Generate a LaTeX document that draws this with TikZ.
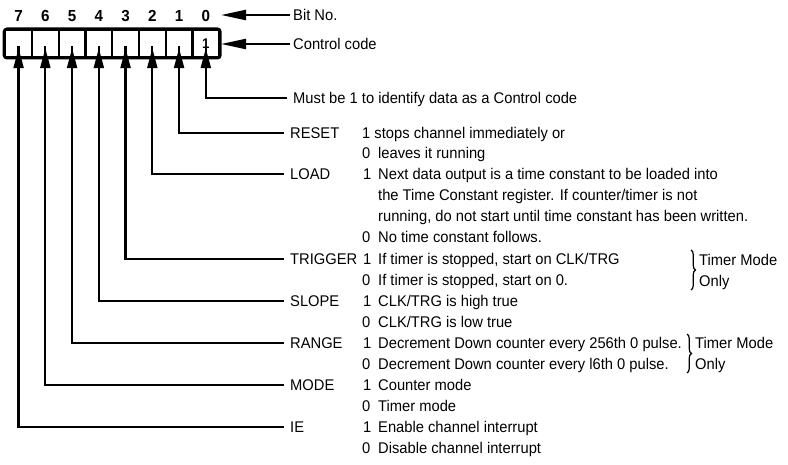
\documentclass[tikz,border=0pt]{standalone}
\usepackage{fontspec}
\setmainfont[FakeStretch=0.95]{Liberation Sans}
\usetikzlibrary{arrows.meta,decorations.pathreplacing,calc}
\begin{document}
\begin{tikzpicture}[x=1pt,y=-1pt,
  txt/.style={anchor=west,inner sep=0pt,text height=11pt,text depth=0pt,font=\fontsize{15.5}{17}\selectfont},
  bitnum/.style={inner sep=0pt,text height=11pt,text depth=0pt,font=\fontsize{16}{18}\selectfont\bfseries},
  cell/.style={draw,line width=2.4pt,minimum width=26.75pt,minimum height=27pt,inner sep=0pt,anchor=west},
  conn/.style={line width=2.3pt,line join=miter},
  harr/.style={line width=2.3pt,-{Triangle[length=25pt,width=10pt]}},
  varr/.style={line width=2.3pt,-{Triangle[length=20pt,width=10pt]}},
  tbrace/.style={decorate,decoration={brace,amplitude=4.5pt},line width=1.2pt}]
\useasboundingbox (0,0) rectangle (788,465);
% register cells (bit 7 at left)
\foreach \i [evaluate=\i as \xx using {4+26.75*(7-\i)}] in {7,6,5,4,3,2,1,0}{
  \node[cell] (b\i) at (\xx,43.5) {};
  \node[bitnum] (n\i) at ($(b\i.center)+(0,-27.5)$) {\i};
}
\draw[line width=2.6pt,rounded corners=3pt] (b7.north west) rectangle (b0.south east);
\node[bitnum,font=\fontsize{14}{16}\selectfont\bfseries] (one) at (b0.center) {1};
% bit no / control code
\node[txt] (bitno) at (293,15) {Bit No.};
\node[txt] (cc) at (293,44) {Control code};
\draw[harr] ([xshift=-3pt]bitno.west) -- (221,15);
\draw[harr] ([xshift=-3pt]cc.west) -- (221,44);
% labels
\node[txt] (must) at (293,98) {Must be 1 to identify data as a Control code};
\node[txt] (reset) at (290,133) {RESET};
\node[txt] (load) at (290,174) {LOAD};
\node[txt] (trig) at (290,259) {TRIGGER};
\node[txt] (slope) at (290,301) {SLOPE};
\node[txt] (range) at (290,343) {RANGE};
\node[txt] (mode) at (290,385) {MODE};
\node[txt] (ie) at (290,427) {IE};
% connectors
\foreach \b/\l in {0/must,1/reset,2/load,3/trig,4/slope,5/range,6/mode,7/ie}{
  \coordinate (c\b) at (b\b.center |- \l.west);
  \draw[conn] ([xshift=-6pt]\l.west) -- (c\b) -- ([yshift=12pt]b\b.south);
  \draw[varr] (c\b) -- ([yshift=10pt]b\b.south);
}
% descriptions
\node[txt] (d1a) at (362,133) {1 stops channel immediately or};
\node[txt] at (362,153) {0};
\node[txt] (d1b) at (378,153) {leaves it running};
\node[txt] at (363,174) {1};
\node[txt] at (378,174) {Next data output is a time constant to be loaded into};
\node[txt] at (378,195) {the Time Constant register. If counter/timer is not};
\node[txt] at (378,216) {running, do not start until time constant has been written.};
\node[txt] at (362,237) {0};
\node[txt] at (378,237) {No time constant follows.};
\node[txt] at (363,259) {1};
\node[txt] at (378,259) {If timer is stopped, start on CLK/TRG};
\node[txt] at (362,280) {0};
\node[txt] at (378,280) {If timer is stopped, start on 0.};
\node[txt] at (363,301) {1};
\node[txt] at (378,301) {CLK/TRG is high true};
\node[txt] at (362,322) {0};
\node[txt] at (378,322) {CLK/TRG is low true};
\node[txt] at (363,343) {1};
\node[txt] (dec1) at (378,343) {Decrement Down counter every 256th 0 pulse.};
\node[txt] at (362,364) {0};
\node[txt] at (378,364) {Decrement Down counter every l6th 0 pulse.};
\node[txt] at (363,385) {1};
\node[txt] at (378,385) {Counter mode};
\node[txt] at (362,406) {0};
\node[txt] at (378,406) {Timer mode};
\node[txt] at (363,427) {1};
\node[txt] at (378,427) {Enable channel interrupt};
\node[txt] at (362,448) {0};
\node[txt] at (378,448) {Disable channel interrupt};
% braces
\node[txt] (tm1) at (699,260) {Timer Mode};
\node[txt] (on1) at (699,281) {Only};
\draw[tbrace] (691,250) -- (691,290);
\node[txt] (tm2) at (695,343) {Timer Mode};
\node[txt] (on2) at (695,364) {Only};
\draw[tbrace] (687,334) -- (687,373);
\end{tikzpicture}
\end{document}
